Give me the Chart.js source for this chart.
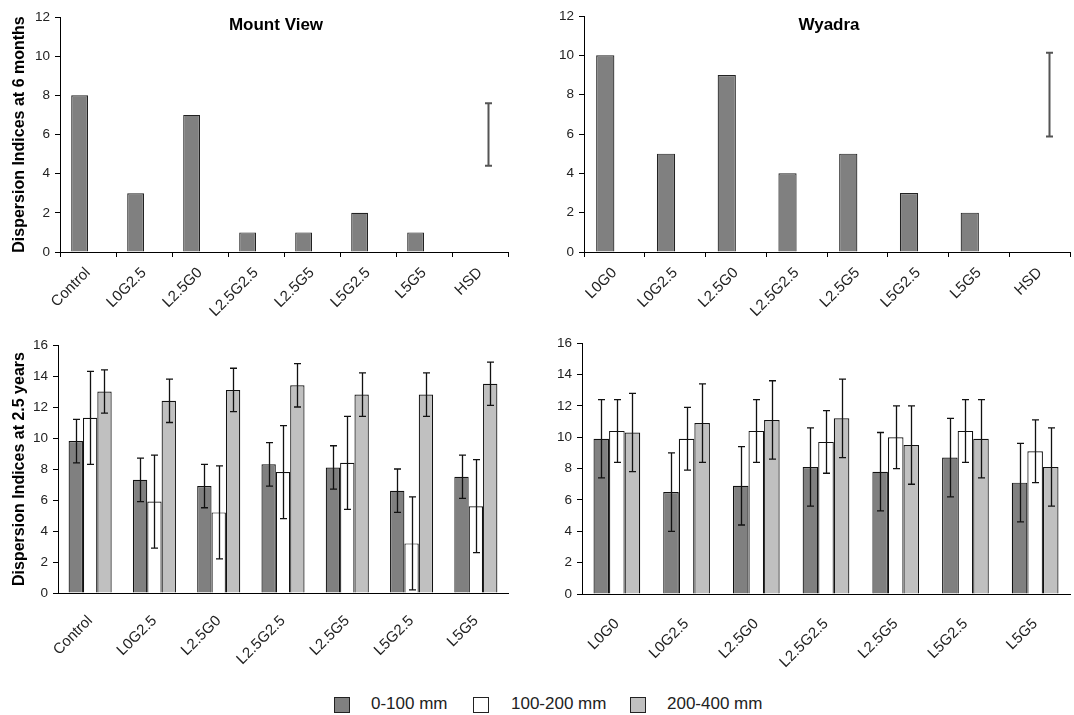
<!DOCTYPE html>
<html>
<head>
<meta charset="utf-8">
<script src="https://cdn.jsdelivr.net/npm/chart.js@4.4.1/dist/chart.umd.min.js"></script>
<style>
  html, body { margin: 0; padding: 0; background: #fff; }
  #wrap { position: relative; width: 1074px; height: 715px; overflow: hidden; }
  .panel { position: absolute; }
  .legend { position: absolute; top: 696px; left: 0; width: 1074px; height: 18px;
            font-family: "Liberation Sans", Arial, sans-serif; font-size: 17px; color: #222; }
  .legend .box { position: absolute; top: 1px; width: 16px; height: 16px; border: 1px solid #222; box-sizing: border-box; }
  .legend .lab { position: absolute; top: -1px; line-height: 18px; white-space: nowrap; }
</style>
</head>
<body>
<div id="wrap">
  <div class="panel" style="left:0;top:0;width:540px;height:330px"><canvas id="c1"></canvas></div>
  <div class="panel" style="left:540px;top:0;width:534px;height:330px"><canvas id="c2"></canvas></div>
  <div class="panel" style="left:0;top:330px;width:540px;height:362px"><canvas id="c3"></canvas></div>
  <div class="panel" style="left:540px;top:330px;width:534px;height:362px"><canvas id="c4"></canvas></div>
  <div class="legend">
    <div class="box" style="left:334px;background:#808080"></div><div class="lab" style="left:371px">0-100 mm</div>
    <div class="box" style="left:473px;background:#ffffff"></div><div class="lab" style="left:511px">100-200 mm</div>
    <div class="box" style="left:630px;background:#c0c0c0"></div><div class="lab" style="left:667px">200-400 mm</div>
  </div>
</div>
<script>
// ---- Dispersion indices at 6 months ----
const mvCats6 = ['Control', 'L0G2.5', 'L2.5G0', 'L2.5G2.5', 'L2.5G5', 'L5G2.5', 'L5G5', 'HSD'];
const wyCats6 = ['L0G0', 'L0G2.5', 'L2.5G0', 'L2.5G2.5', 'L2.5G5', 'L5G2.5', 'L5G5', 'HSD'];
const mv6 = [8, 3, 7, 1, 1, 2, 1, null];
const wy6 = [10, 5, 9, 4, 5, 3, 2, null];
// HSD shown as an error bar around its midpoint
const mvHsdMid = [null, null, null, null, null, null, null, 6.0];
const mvHsdHalf = [null, null, null, null, null, null, null, 1.6];
const wyHsdMid = [null, null, null, null, null, null, null, 8.0];
const wyHsdHalf = [null, null, null, null, null, null, null, 2.13];

// ---- Dispersion indices at 2.5 years, by depth ----
const mvCats25 = ['Control', 'L0G2.5', 'L2.5G0', 'L2.5G2.5', 'L2.5G5', 'L5G2.5', 'L5G5'];
const wyCats25 = ['L0G0', 'L0G2.5', 'L2.5G0', 'L2.5G2.5', 'L2.5G5', 'L5G2.5', 'L5G5'];
const depthLabels = ['0-100 mm', '100-200 mm', '200-400 mm'];

const mvShallow = [9.8, 7.3, 6.9, 8.3, 8.1, 6.6, 7.5];
const mvShallowErr = [1.4, 1.4, 1.4, 1.4, 1.4, 1.4, 1.4];
const mvMid = [11.3, 5.9, 5.2, 7.8, 8.4, 3.2, 5.6];
const mvMidErr = [3.0, 3.0, 3.0, 3.0, 3.0, 3.0, 3.0];
const mvDeep = [13.0, 12.4, 13.1, 13.4, 12.8, 12.8, 13.5];
const mvDeepErr = [1.4, 1.4, 1.4, 1.4, 1.4, 1.4, 1.4];

const wyShallow = [9.9, 6.5, 6.9, 8.1, 7.8, 8.7, 7.1];
const wyShallowErr = [2.5, 2.5, 2.5, 2.5, 2.5, 2.5, 2.5];
const wyMid = [10.4, 9.9, 10.4, 9.7, 10.0, 10.4, 9.1];
const wyMidErr = [2.0, 2.0, 2.0, 2.0, 2.0, 2.0, 2.0];
const wyDeep = [10.3, 10.9, 11.1, 11.2, 9.5, 9.9, 8.1];
const wyDeepErr = [2.5, 2.5, 2.5, 2.5, 2.5, 2.5, 2.5];

const FONT = '"Liberation Sans", Arial, sans-serif';
const depthColors = ['#808080', '#ffffff', '#c0c0c0'];

// Draws symmetric error bars for any dataset carrying an `errors` array
const errorBars = {
  id: 'errorBars',
  afterDatasetsDraw(chart) {
    const ctx = chart.ctx;
    const y = chart.scales.y;
    chart.data.datasets.forEach((ds, di) => {
      if (!ds.errors) return;
      const meta = chart.getDatasetMeta(di);
      ctx.save();
      ctx.strokeStyle = ds.errorColor || '#111';
      ctx.lineWidth = ds.errorWidth || 1.3;
      meta.data.forEach((el, i) => {
        const v = ds.data[i], e = ds.errors[i];
        if (v == null || e == null) return;
        const x = Math.round(el.x) + 0.5;
        const yt = y.getPixelForValue(v + e);
        const yb = y.getPixelForValue(v - e);
        const cap = 3.5;
        ctx.beginPath();
        ctx.moveTo(x, yt); ctx.lineTo(x, yb);
        ctx.moveTo(x - cap, yt); ctx.lineTo(x + cap, yt);
        ctx.moveTo(x - cap, yb); ctx.lineTo(x + cap, yb);
        ctx.stroke();
      });
      ctx.restore();
    });
  }
};

// Panel heading drawn inside the plot area
const panelTitle = {
  id: 'panelTitle',
  afterDraw(chart, args, opts) {
    if (!opts || !opts.text) return;
    const a = chart.chartArea;
    const ctx = chart.ctx;
    ctx.save();
    ctx.font = 'bold 17px ' + FONT;
    ctx.fillStyle = '#000';
    ctx.textAlign = 'center';
    ctx.textBaseline = 'middle';
    ctx.fillText(opts.text, (a.left + a.right) / 2 + (opts.dx || 0), a.top + (opts.dy || 8));
    ctx.restore();
  }
};

function makeChart(id, cfg) {
  const el = document.getElementById(id);
  const box = el.parentElement;
  el.width = parseInt(box.style.width);
  el.height = parseInt(box.style.height);
  return new Chart(el, {
    type: 'bar',
    data: { labels: cfg.labels, datasets: cfg.datasets },
    plugins: [errorBars, panelTitle],
    options: {
      responsive: false,
      animation: false,
      devicePixelRatio: 1,
      layout: { padding: cfg.padding },
      datasets: { bar: { categoryPercentage: cfg.catPct, barPercentage: 1.0 } },
      plugins: {
        legend: { display: false },
        tooltip: { enabled: false },
        panelTitle: cfg.title || {}
      },
      scales: {
        x: {
          afterFit: s => { s.height = cfg.xHeight; },
          grid: { display: true, drawOnChartArea: false, drawTicks: cfg.xTicks, tickLength: 5, color: '#000', offset: true },
          border: { display: true, color: '#000', width: 1 },
          ticks: { autoSkip: false, minRotation: 45, maxRotation: 45, padding: cfg.xPad,
                   color: '#222', font: { family: FONT, size: 15 } }
        },
        y: {
          min: 0, max: cfg.yMax,
          afterFit: s => { s.width = cfg.yWidth; },
          grid: { display: true, drawOnChartArea: false, drawTicks: true, tickLength: 5, color: '#000' },
          border: { display: true, color: '#000', width: 1 },
          ticks: { stepSize: 2, padding: 5, color: '#222', font: { family: FONT, size: 13.5 } },
          title: cfg.yTitle ? { display: true, text: cfg.yTitle, color: '#000',
                                font: { family: FONT, size: 16, weight: 'bold' }, padding: { top: 10, bottom: 0 } }
                            : { display: false }
        }
      }
    }
  });
}

function sixMonthSets(vals, hsdMid, hsdHalf) {
  return [
    { label: 'Index', data: vals, backgroundColor: '#808080', borderColor: '#222', borderWidth: 1.2 },
    { label: 'HSD', data: hsdMid, backgroundColor: 'rgba(0,0,0,0)', borderWidth: 0,
      errors: hsdHalf, errorColor: '#555', errorWidth: 2 }
  ];
}

function depthSets(a, ae, b, be, c, ce) {
  const vals = [a, b, c], errs = [ae, be, ce];
  return depthLabels.map((lab, k) => ({
    label: lab, data: vals[k], errors: errs[k],
    backgroundColor: depthColors[k], borderColor: '#111', borderWidth: 1.2
  }));
}

makeChart('c1', {
  labels: mvCats6, datasets: sixMonthSets(mv6, mvHsdMid, mvHsdHalf),
  padding: { top: 17, right: 32, left: 0, bottom: 0 },
  yWidth: 60, xHeight: 78, yMax: 12, catPct: 0.6, xTicks: true, xPad: 7,
  yTitle: 'Dispersion Indices at 6 months',
  title: { text: 'Mount View', dx: -8, dy: 8 }
});

makeChart('c2', {
  labels: wyCats6, datasets: sixMonthSets(wy6, wyHsdMid, wyHsdHalf),
  padding: { top: 16, right: 4, left: 0, bottom: 0 },
  yWidth: 44, xHeight: 78, yMax: 12, catPct: 0.6, xTicks: true, xPad: 7,
  title: { text: 'Wyadra', dx: 2, dy: 9 }
});

makeChart('c3', {
  labels: mvCats25, datasets: depthSets(mvShallow, mvShallowErr, mvMid, mvMidErr, mvDeep, mvDeepErr),
  padding: { top: 15, right: 32, left: 0, bottom: 0 },
  yWidth: 58, xHeight: 99, yMax: 16, catPct: 0.67, xTicks: false, xPad: 19,
  yTitle: 'Dispersion Indices at 2.5 years'
});

makeChart('c4', {
  labels: wyCats25, datasets: depthSets(wyShallow, wyShallowErr, wyMid, wyMidErr, wyDeep, wyDeepErr),
  padding: { top: 13, right: 4, left: 0, bottom: 0 },
  yWidth: 42, xHeight: 98, yMax: 16, catPct: 0.67, xTicks: false, xPad: 21
});
</script>
</body>
</html>
